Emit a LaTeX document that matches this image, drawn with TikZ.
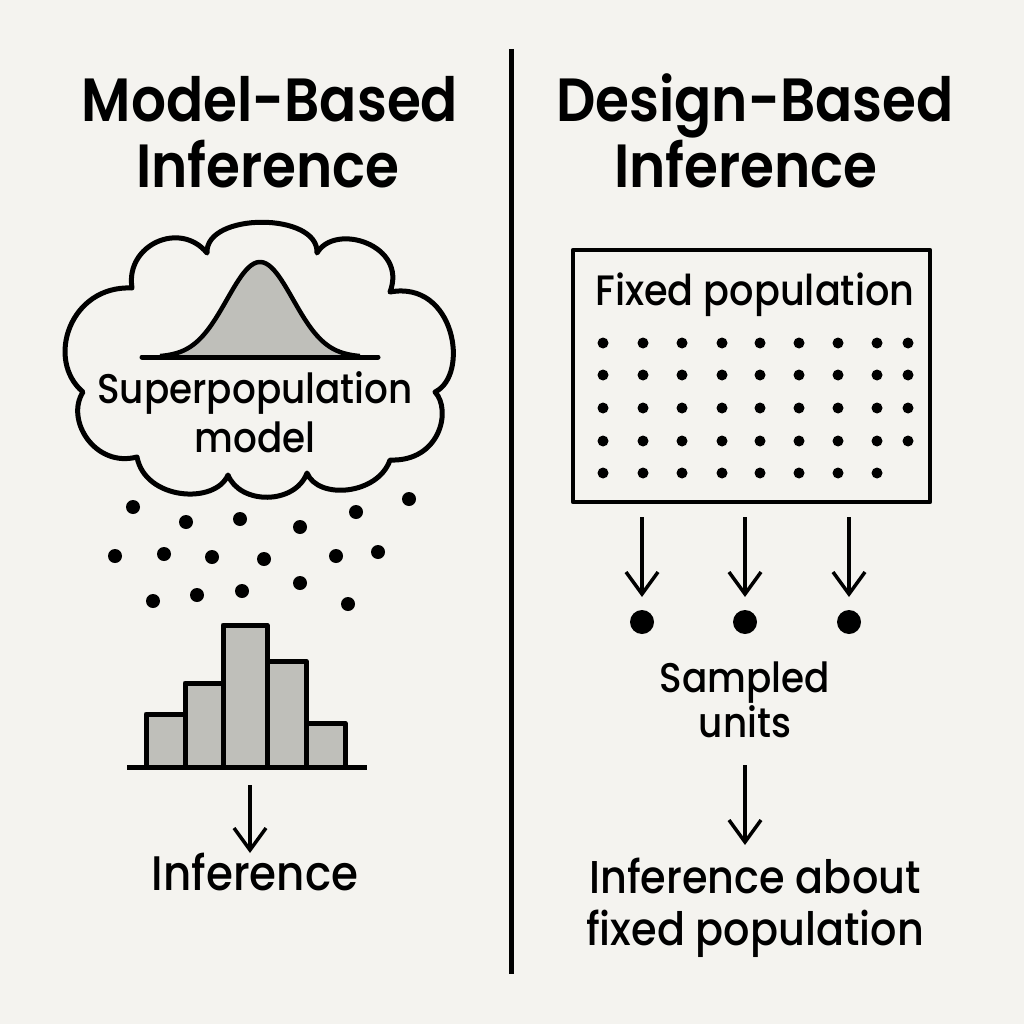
\documentclass[tikz,border=0pt]{standalone}
\usepackage{fontspec}
\setmainfont{Poppins}
\newfontfamily\ttlfont{Poppins}[UprightFont={* SemiBold},FakeStretch=0.9]
\newfontfamily\bdyfont{Poppins}[UprightFont={* Medium},FakeStretch=0.9]
\usetikzlibrary{arrows.meta}
\definecolor{bgc}{HTML}{F4F3EF}
\definecolor{fillg}{HTML}{BFBFBA}
\begin{document}
\begin{tikzpicture}[x=1pt,y=-1pt,line join=round,
  ttl/.style={font=\ttlfont\fontsize{61}{66}\selectfont,anchor=base,inner sep=0pt},
  bdy/.style={font=\bdyfont\fontsize{41.5}{46}\selectfont,anchor=base,inner sep=0pt},
  bdyb/.style={font=\bdyfont\fontsize{46}{50}\selectfont,anchor=base,inner sep=0pt},
  arr/.style={line width=3.5pt,-{Straight Barb[length=22pt,width=32pt,line width=3.5pt]}},
  ldot/.style={circle,fill=black,inner sep=0pt,minimum size=14pt},
  gdot/.style={circle,fill=black,inner sep=0pt,minimum size=11pt},
  sdot/.style={circle,fill=black,inner sep=0pt,minimum size=24pt},
  bar/.style={draw=black,fill=fillg,line width=5pt}]
\fill[bgc] (0,0) rectangle (1024,1024);
\useasboundingbox (0,0) rectangle (1024,1024);
% divider
\coordinate (dv1) at (511,49);
\coordinate (dv2) at (511,974);
\draw[line width=5pt] (dv1) -- (dv2);
% titles
\node[ttl] (tl1) at (270,122) {Model-Based};
\node[ttl] (tl2) at (268,188) {Inference};
\node[ttl] (tr1) at (755,122) {Design-Based};
\node[ttl] (tr2) at (746,188) {Inference};
% cloud
\draw[line width=5pt,fill=bgc] (207,253)
  .. controls (205,212) and (319,212) .. (317,253)
  .. controls (335,222) and (408,245) .. (390,292)
  .. controls (455,280) and (470,375) .. (435,392)
  .. controls (452,410) and (440,462) .. (390,460)
  .. controls (378,495) and (318,500) .. (307,473)
  .. controls (295,505) and (240,505) .. (228,475)
  .. controls (215,505) and (145,500) .. (137,457)
  .. controls (95,468) and (65,420) .. (83,392)
  .. controls (45,360) and (70,285) .. (132,288)
  .. controls (125,245) and (180,220) .. (207,253) -- cycle;
% bell curve
\fill[fillg] plot[domain=-100:100,samples=80] ({260+\x},{357-95*exp(-((\x/33)^2)/2)}) -- cycle;
\draw[line width=4.5pt] plot[domain=-100:100,samples=80] ({260+\x},{357-95*exp(-((\x/33)^2)/2)});
\coordinate (bl1) at (142,357);
\coordinate (bl2) at (378,357);
\draw[line width=5pt,line cap=round] (bl1) -- (bl2);
\node[bdy] (sp1) at (255,403) {Superpopulation};
\node[bdy] (sp2) at (255,452) {model};
% scattered dots
\foreach \px/\py [count=\i] in {133/507,186/522,240/519,300/527,356/512,409/499,
  115/556,164/554,212/557,264/559,336/556,378/552,
  153/601,197/595,242/591,300/583,348/604}
  \node[ldot] (ld\i) at (\px,\py) {};
% histogram
\draw[bar] (146,714) rectangle (185,767);
\draw[bar] (185,683) rectangle (223,767);
\draw[bar] (223,625) rectangle (267,767);
\draw[bar] (267,661) rectangle (306,767);
\draw[bar] (306,723) rectangle (345,767);
\coordinate (hb1) at (127,767);
\coordinate (hb2) at (367,767);
\draw[line width=5pt] (hb1) -- (hb2);
\coordinate (la1) at (250,785);
\coordinate (la2) at (250,853);
\draw[arr] (la1) -- (la2);
\node[bdyb,font=\bdyfont\fontsize{48.5}{50}\selectfont] (inf1) at (255,890) {Inference};
% right: fixed population box
\draw[line width=4.5pt] (573,250) rectangle (930,502);
\node[bdy,font=\bdyfont\fontsize{42.5}{46}\selectfont] (fp) at (755,305) {Fixed population};
\foreach \py [count=\r] in {343,375,408,441} {
  \foreach \px [count=\c] in {603,643,682,722,760,799,838,877,908}
    \node[gdot] (g\r-\c) at (\px,\py) {};
}
\foreach \px [count=\c] in {603,643,682,722,760,799,838,877}
  \node[gdot] (g5-\c) at (\px,473) {};
% sampled
\foreach \px [count=\i] in {642,745,849} {
  \node[sdot] (s\i) at (\px,622) {};
  \coordinate (sa\i) at (\px,517);
  \coordinate (sb\i) at (\px,597);
  \draw[arr] (sa\i) -- (sb\i);
}
\node[bdy] (su1) at (745,692) {Sampled};
\node[bdy] (su2) at (745,737) {units};
\coordinate (ra1) at (745,765);
\coordinate (ra2) at (745,845);
\draw[arr] (ra1) -- (ra2);
\node[bdyb] (ia1) at (755,893) {Inference about};
\node[bdyb] (ia2) at (755,945) {fixed population};
\end{tikzpicture}
\end{document}
